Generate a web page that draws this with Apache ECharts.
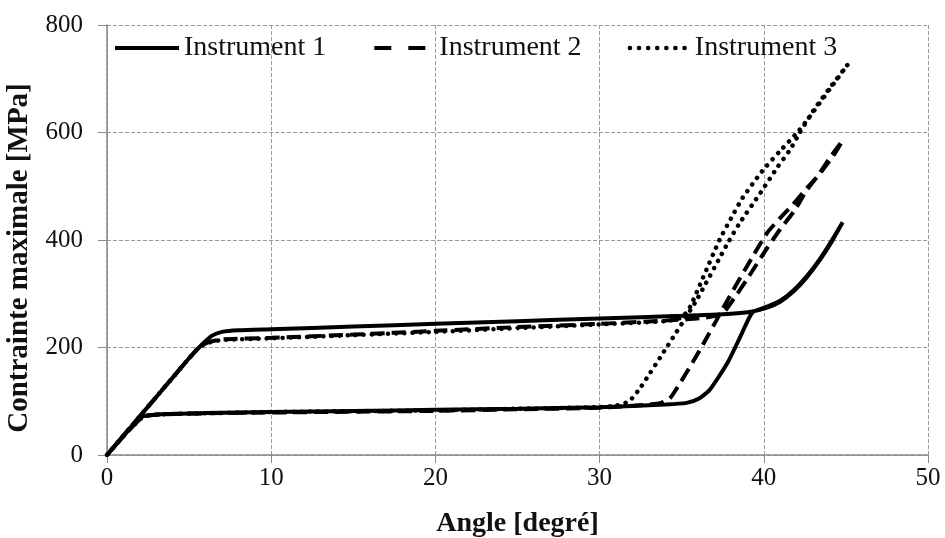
<!DOCTYPE html>
<html>
<head>
<meta charset="utf-8">
<script src="https://cdn.jsdelivr.net/npm/echarts@6/dist/echarts.min.js"></script>
<style>
    html, body { margin: 0; padding: 0; background: #fff; }
    #chart { width: 945px; height: 538px; }
</style>
</head>
<body>
<div id="chart"></div>
<script>
// [angle (degré), contrainte (MPa)] - loading then unloading
const instrument1 = [
    [0, 0], [1, 36], [2, 72], [3, 108], [4, 144], [5, 180], [5.8, 206], [6.4, 222], [7, 229], [8, 232],
    [10, 234], [15, 239], [20, 244], [25, 249], [30, 254], [35, 259], [38, 263], [39.3, 267],
    [40.2, 274], [41, 285], [41.8, 304], [42.6, 330], [43.4, 362], [44.1, 395], [44.8, 433],
    [44.1, 397], [43.4, 364], [42.6, 332], [41.8, 306], [41, 287], [40.2, 276], [39.3, 265],
    [38.6, 222], [37.8, 172], [36.7, 121], [36, 104], [35.3, 97], [34, 94], [30, 89],
    [25, 86], [20, 84], [15, 82], [10, 80], [6, 78], [3.2, 76], [2.4, 73], [2, 70], [1, 35], [0, 0]
];
const instrument2 = [
    [0, 0], [1, 36], [2, 72], [3, 108], [4, 144], [5, 180], [5.6, 200], [6.2, 210], [7, 215],
    [10, 218], [15, 224], [20, 231], [25, 238], [30, 244], [34, 250], [36.3, 255], [37.5, 264],
    [38.2, 292], [39, 328], [40.2, 385], [41, 420], [41.9, 456], [42.6, 492], [43.5, 527],
    [44.2, 555], [44.8, 585],
    [44, 552], [43.2, 516], [42.6, 496], [41.8, 467], [41, 441], [40.2, 413], [39.3, 368],
    [37.9, 294], [36.1, 195], [34.3, 106], [33.6, 96], [30, 88], [25, 85], [20, 82], [10, 79],
    [5, 77], [3, 75], [2.2, 71], [1, 35], [0, 0]
];
const instrument3 = [
    [0, 0], [1, 36], [2, 72], [3, 108], [4, 144], [5, 180], [5.6, 200], [6.2, 209], [7, 214],
    [10, 217], [15, 223], [20, 229], [25, 236], [30, 243], [34, 249], [35, 256], [35.5, 275],
    [36.3, 330], [37.3, 400], [38, 440], [38.7, 478], [39.9, 528], [41, 566], [42.1, 602],
    [43, 638], [44, 680], [45.1, 726],
    [44, 682], [43, 640], [42.2, 600], [41.6, 568], [40.8, 534], [39.8, 488], [38.5, 430],
    [37.8, 394], [35.9, 288], [34.1, 201], [32.5, 126], [31.8, 100], [31, 92], [30, 89],
    [25, 86], [20, 83], [10, 80], [5, 77], [3, 75], [2.2, 71], [1, 35], [0, 0]
];
const seriesNames = ['Instrument 1', 'Instrument 2', 'Instrument 3'];
const xTicks = { min: 0, max: 50, interval: 10 };
const yTicks = { min: 0, max: 800, interval: 200 };

const serif = '"Liberation Serif", "Times New Roman", serif';
const gridColor = '#9a9a9a';

const chart = echarts.init(document.getElementById('chart'));

function lineSeries(name, data, lineStyle) {
    return {
        name: name,
        type: 'line',
        data: data,
        symbol: 'none',
        smooth: 0.2,
        animation: false,
        itemStyle: { color: '#000' },
        lineStyle: Object.assign({ color: '#000', width: 4 }, lineStyle)
    };
}

chart.setOption({
    backgroundColor: '#fff',
    grid: { left: 107, right: 17, top: 25, bottom: 83, outerBoundsMode: 'none' },
    legend: {
        left: 108,
        top: 29,
        itemWidth: 64,
        itemHeight: 16,
        itemGap: 42,
        // hide the marker dot, keep only the line sample
        itemStyle: { opacity: 0 },
        textStyle: { fontFamily: serif, fontSize: 28, color: '#111' },
        data: [
            { name: seriesNames[0], lineStyle: { width: 4 } },
            { name: seriesNames[1], lineStyle: { width: 4, type: [17, 17], dashOffset: -4 } },
            { name: seriesNames[2], lineStyle: { width: 4.5, type: [0.1, 9], cap: 'round' } }
        ]
    },
    xAxis: {
        type: 'value',
        min: xTicks.min,
        max: xTicks.max,
        interval: xTicks.interval,
        name: 'Angle [degré]',
        nameLocation: 'middle',
        nameGap: 55,
        nameTextStyle: { fontFamily: serif, fontSize: 28, fontWeight: 'bold', color: '#111' },
        axisLine: { lineStyle: { color: '#8a8a8a', width: 1.5 } },
        axisTick: { show: true, length: 8, lineStyle: { color: '#8a8a8a' } },
        axisLabel: { fontFamily: serif, fontSize: 25, color: '#111', margin: 11 },
        splitLine: { show: true, lineStyle: { color: gridColor, type: [4, 2], width: 1 } }
    },
    yAxis: {
        type: 'value',
        min: yTicks.min,
        max: yTicks.max,
        interval: yTicks.interval,
        name: 'Contrainte maximale [MPa]',
        nameLocation: 'middle',
        nameRotate: 90,
        nameGap: 73,
        nameTextStyle: {
            fontFamily: serif, fontSize: 29, fontWeight: 'bold', color: '#111',
            padding: [0, 36, 0, 0]
        },
        axisLine: { show: true, lineStyle: { color: '#8a8a8a', width: 1.5 } },
        axisTick: { show: true, length: 9, lineStyle: { color: '#8a8a8a' } },
        axisLabel: { fontFamily: serif, fontSize: 25, color: '#111', margin: 24 },
        splitLine: { show: true, lineStyle: { color: gridColor, type: [4, 2], width: 1 } }
    },
    series: [
        lineSeries(seriesNames[0], instrument1, { type: 'solid' }),
        lineSeries(seriesNames[1], instrument2, { type: [14, 7] }),
        lineSeries(seriesNames[2], instrument3, { type: [0.1, 8], cap: 'round', width: 4.5 })
    ]
});
</script>
</body>
</html>
